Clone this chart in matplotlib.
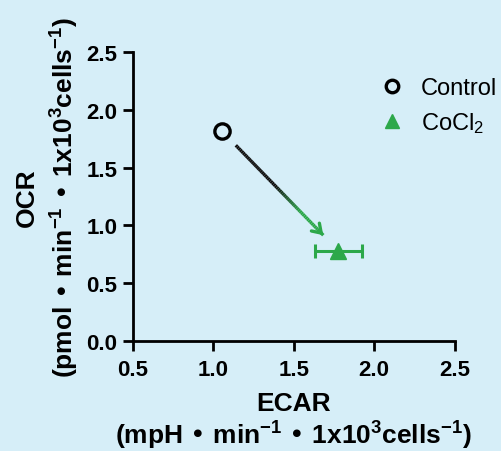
import numpy as np
import matplotlib
matplotlib.use("Agg")
import matplotlib.pyplot as plt
from matplotlib.collections import LineCollection
from matplotlib.colors import to_rgb
from matplotlib.lines import Line2D

plt.rcParams['font.family'] = ['Liberation Sans', 'DejaVu Sans']
plt.rcParams['mathtext.default'] = 'regular'

# Data
groups = ["Control", "CoCl$_2$"]
ecar = [1.054, 1.778]
ocr = [1.817, 0.781]
ecar_err = [0.0, 0.145]
xticks = [0.5, 1.0, 1.5, 2.0, 2.5]
yticks = [0.0, 0.5, 1.0, 1.5, 2.0, 2.5]

bg = "#d6eef8"
green = "#2ca84a"

fig = plt.figure(figsize=(5.02, 4.52), dpi=100, facecolor=bg)
ax = fig.add_axes([0.264, 0.243, 0.642, 0.640])
ax.set_facecolor(bg)

ax.plot(ecar[0], ocr[0], 'o', ms=11, mfc='none', mec='black', mew=2.4, clip_on=False)
ax.errorbar(ecar[1], ocr[1], xerr=ecar_err[1], fmt='^', ms=11, color=green, mfc=green, mec=green,
            ecolor=green, elinewidth=2.2, capsize=5, capthick=2.2)

# arrow from control towards CoCl2 with gradient black -> green
t0, t1 = 0.12, 0.87
x0 = ecar[0] + t0 * (ecar[1] - ecar[0]); y0 = ocr[0] + t0 * (ocr[1] - ocr[0])
x1 = ecar[0] + t1 * (ecar[1] - ecar[0]); y1 = ocr[0] + t1 * (ocr[1] - ocr[0])
n = 60
xs = np.linspace(x0, x1, n + 1); ys = np.linspace(y0, y1, n + 1)
segs = [[(xs[i], ys[i]), (xs[i + 1], ys[i + 1])] for i in range(n)]
c0 = np.array(to_rgb("#111111")); c1 = np.array(to_rgb(green))
cols = []
for i in range(n):
    f = i / (n - 1)
    w = np.clip((f - 0.45) / 0.3, 0, 1)
    cols.append(c0 * (1 - w) + c1 * w)
ax.add_collection(LineCollection(segs, colors=cols, linewidths=2.4))
ax.annotate("", xy=(x1, y1), xytext=(xs[-4], ys[-4]),
            arrowprops=dict(arrowstyle='->,head_length=0.6,head_width=0.4', color=green, lw=2.4,
                            shrinkA=0, shrinkB=0))

ax.set_xlim(0.5, 2.5)
ax.set_ylim(0.0, 2.5)
ax.set_xticks(xticks)
ax.set_yticks(yticks)
ax.set_xticklabels([f"{v:.1f}" for v in xticks], fontsize=16, fontweight='bold')
ax.set_yticklabels([f"{v:.1f}" for v in yticks], fontsize=16, fontweight='bold')
for s in ['top', 'right']:
    ax.spines[s].set_visible(False)
for s in ['left', 'bottom']:
    ax.spines[s].set_linewidth(2)
ax.tick_params(direction='out', length=7, width=2)
ax.tick_params(axis='x', pad=6)
ax.tick_params(axis='y', pad=4)

ax.set_xlabel("ECAR\n(mpH • min$^{-1}$ • 1x10$^{3}$cells$^{-1}$)", fontsize=19, fontweight='bold',
              linespacing=1.12, labelpad=8)
ax.set_ylabel("OCR\n(pmol • min$^{-1}$ • 1x10$^{3}$cells$^{-1}$)", fontsize=19, fontweight='bold',
              linespacing=1.4, labelpad=4)

handles = [Line2D([], [], ls='none', marker='o', ms=9, mfc='none', mec='black', mew=2.4),
           Line2D([], [], ls='none', marker='^', ms=10, mfc=green, mec=green)]
ax.legend(handles, groups, loc='upper left', bbox_to_anchor=(0.74, 0.945), frameon=False, fontsize=17,
          handletextpad=0.7, labelspacing=0.45, handlelength=1.0, borderaxespad=0)

fig.savefig("out.png", dpi=100, facecolor=bg)
